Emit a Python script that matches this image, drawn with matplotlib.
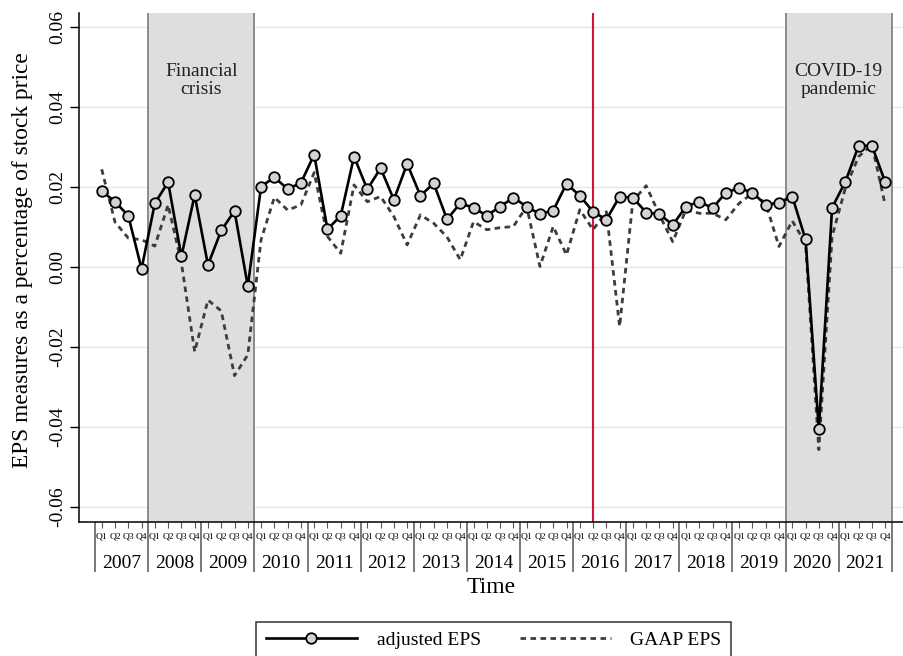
import numpy as np
import matplotlib
matplotlib.use("Agg")
import matplotlib.pyplot as plt

plt.rcParams['font.family'] = ['Liberation Serif', 'DejaVu Serif']

years = list(range(2007, 2022))
quarters = ['Q1', 'Q2', 'Q3', 'Q4']

adjusted_eps = [0.0190, 0.0163, 0.0128, -0.0005, 0.0159, 0.0212, 0.0026, 0.0180, 0.0005, 0.0091, 0.0140, -0.0048,
                0.0201, 0.0224, 0.0195, 0.0210, 0.0281, 0.0094, 0.0128, 0.0276,
                0.0194, 0.0247, 0.0168, 0.0258, 0.0178, 0.0209, 0.0119, 0.0159, 0.0148, 0.0128, 0.0151, 0.0173,
                0.0151, 0.0132, 0.0141, 0.0208, 0.0178, 0.0138, 0.0118, 0.0176, 0.0173, 0.0136, 0.0132, 0.0105,
                0.0151, 0.0163, 0.0147, 0.0186, 0.0197, 0.0186, 0.0155, 0.0161, 0.0176, 0.0069, -0.0406, 0.0148,
                0.0213, 0.0303, 0.0303, 0.0212]

gaap_eps = [0.0244, 0.0112, 0.0072, 0.0068, 0.0052, 0.0155, 0.0010, -0.0212, -0.0083, -0.0110, -0.0272, -0.0220,
            0.0068, 0.0174, 0.0142, 0.0155, 0.0236, 0.0076, 0.0034, 0.0205,
            0.0163, 0.0176, 0.0126, 0.0055, 0.0130, 0.0109, 0.0075, 0.0018, 0.0113, 0.0093, 0.0098, 0.0101,
            0.0151, 0.0001, 0.0101, 0.0030, 0.0143, 0.0093, 0.0138, -0.0149, 0.0165, 0.0203, 0.0130, 0.0063,
            0.0143, 0.0134, 0.0134, 0.0118, 0.0159, 0.0184, 0.0159, 0.0051, 0.0115, 0.0059, -0.0457, 0.0076,
            0.0197, 0.0276, 0.0305, 0.0155]

crisis_years = (2008, 2009)
covid_years = (2020, 2021)
event_quarter = (2016, 2)  # red line

n = len(years) * 4
x = np.arange(n)

def qidx(year, q):
    return (year - years[0]) * 4 + (q - 1)

fig = plt.figure(figsize=(9.04, 6.56), dpi=100)
ax = fig.add_axes([0.0874, 0.2043, 0.9115, 0.7759])

# grid
for v in np.arange(-0.06, 0.061, 0.02):
    ax.axhline(v, color='#dde9ee', lw=1, zorder=0)

# shaded periods
for (a, b), label in [(crisis_years, 'Financial\ncrisis'), (covid_years, 'COVID-19\npandemic')]:
    x0 = qidx(a, 1) - 0.5
    x1 = qidx(b, 4) + 0.5
    ax.axvspan(x0, x1, facecolor='#dedede', edgecolor='none', zorder=1)
    ax.axvline(x0, color='#8c8c8c', lw=1.4, zorder=1.5)
    ax.axvline(x1, color='#8c8c8c', lw=1.4, zorder=1.5)
    ax.text((x0 + x1) / 2, 0.868, label, transform=ax.get_xaxis_transform(),
            ha='center', va='center', fontsize=14, color='#222222', linespacing=1.05)

ax.axvline(qidx(*event_quarter), color='#d2143c', lw=1.5, zorder=2)

ax.plot(x, gaap_eps, color='#3c3c3c', lw=2.0, linestyle=(0, (2.0, 1.6)), zorder=3,
        label='GAAP EPS')
ax.plot(x, adjusted_eps, color='black', lw=1.9, marker='o', markersize=7.6,
        markerfacecolor='#d3d3d3', markeredgecolor='black', markeredgewidth=1.3,
        zorder=4, label='adjusted EPS')

ax.set_xlim(-1.71, 60.34)
ax.set_ylim(-0.0638, 0.0635)

for s in ['top', 'right']:
    ax.spines[s].set_visible(False)
ax.spines['left'].set_linewidth(1.1)
ax.spines['bottom'].set_linewidth(1.1)

# y axis
ax.set_yticks(np.arange(-0.06, 0.061, 0.02))
ax.set_yticklabels([f'{v:.2f}' for v in np.arange(-0.06, 0.061, 0.02)],
                   rotation=90, va='center', fontsize=14)
ax.tick_params(axis='y', length=6.5, width=1, pad=3)
ax.set_ylabel('EPS measures as a percentage of stock price', fontsize=16.8, va='center')
ax.yaxis.set_label_coords(-0.069, 0.515)

# x axis: year separators as long major ticks, quarters as minor ticks
bounds = np.arange(len(years) + 1) * 4 - 0.5
ax.set_xticks(bounds)
ax.set_xticklabels([''] * len(bounds))
ax.tick_params(axis='x', which='major', length=36, width=1.1, color='#555555')
ax.set_xticks(x, minor=True)
ax.set_xticklabels(quarters * len(years), minor=True, fontsize=6.8)
ax.tick_params(axis='x', which='minor', length=4, width=0.8, pad=3.5, color='#555555')

for i, yr in enumerate(years):
    ax.text(i * 4 + 1.5, -0.081, str(yr), transform=ax.get_xaxis_transform(),
            ha='center', va='center', fontsize=14)

ax.set_xlabel('Time', fontsize=17, va='center')
ax.xaxis.set_label_coords(0.5, -0.128)

handles, labels = ax.get_legend_handles_labels()
leg = fig.legend(handles[::-1], labels[::-1], loc='upper center', bbox_to_anchor=(0.546, 0.067),
                 ncol=2, fontsize=14, frameon=True, fancybox=False, edgecolor='black',
                 handlelength=4.7, handletextpad=1.0, columnspacing=2.0, borderpad=0.5,
                 numpoints=1)
leg.get_frame().set_linewidth(1.1)

fig.savefig('out.png', dpi=100)
